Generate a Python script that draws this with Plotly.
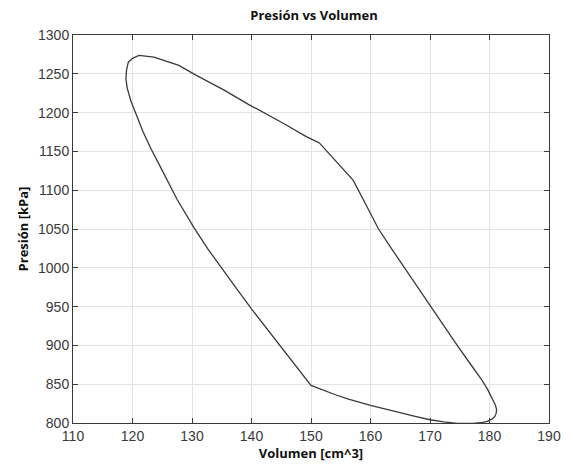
import plotly.graph_objects as go

volumen = [151.4, 157.1, 159.7, 161.3, 163.5, 165.7, 167.9, 170.0, 172.3, 174.6, 176.7, 178.7, 179.7, 180.4, 181.0, 181.2, 181.1, 180.9, 180.4, 179.6, 178.5, 177.3, 174.6, 172.3, 170.0, 167.5, 165.2, 162.5, 160.0, 156.3, 154.1, 150.0,
           144.8, 140.0, 137.4, 134.9, 132.6, 130.3, 127.5, 124.45, 123.0, 121.7, 120.6, 119.7, 119.1, 118.9, 119.0, 119.3, 120.0, 121.1, 123.6, 125.7, 127.8, 130.5, 135.4, 139.4, 145.4, 149.2, 151.4]
presion = [1161, 1112.7, 1074.5, 1050.6, 1025, 1000, 975, 951.2, 925, 899.8, 877, 855.7, 843, 832, 823, 817, 812, 808.5, 805, 802, 800.3, 799.6, 799.6, 801.5, 804.2, 808.5, 812.8, 818, 822.7, 830.8, 836.4, 848.5,
           899, 947, 974, 1000, 1025, 1052, 1088, 1133.6, 1155, 1176.7, 1197, 1215.5, 1232, 1243.6, 1255, 1265, 1270, 1273.7, 1271.5, 1266.5, 1260.8, 1249, 1229, 1211, 1186, 1169, 1161]

x_ticks = [110, 120, 130, 140, 150, 160, 170, 180, 190]
y_ticks = [800, 850, 900, 950, 1000, 1050, 1100, 1150, 1200, 1250, 1300]

fig = go.Figure()
fig.add_trace(go.Scatter(x=volumen, y=presion, mode="lines",
                         line=dict(color="#3a3a3a", width=1.3),
                         hoverinfo="skip", showlegend=False, cliponaxis=False))

axis_common = dict(showgrid=True, gridcolor="#e3e3e3", gridwidth=1,
                   showline=True, linecolor="#3a3a3a", linewidth=1, mirror="ticks",
                   ticks="inside", ticklen=5, tickcolor="#3a3a3a", zeroline=False,
                   tickfont=dict(family="Liberation Sans, Arial", size=14, color="#3a3a3a"))

fig.update_xaxes(range=[110, 190], tickvals=x_ticks,
                 title=dict(text="<b>Volumen [cm^3]</b>", font=dict(family="Open Sans", size=13, color="#111"), standoff=6),
                 **axis_common)
fig.update_yaxes(range=[800, 1300], tickvals=y_ticks,
                 title=dict(text="<b>Presión [kPa]</b>", font=dict(family="Open Sans", size=13, color="#111"), standoff=6),
                 **axis_common)

fig.update_layout(
    width=573, height=472,
    margin=dict(l=73, r=17, t=35, b=49),
    paper_bgcolor="white", plot_bgcolor="white",
    title=dict(text="<b>Presión vs Volumen</b>", x=0.548, xanchor="center", y=0.968, yanchor="middle",
               font=dict(family="Open Sans", size=13, color="#111")),
)

fig.write_html("out.html")
